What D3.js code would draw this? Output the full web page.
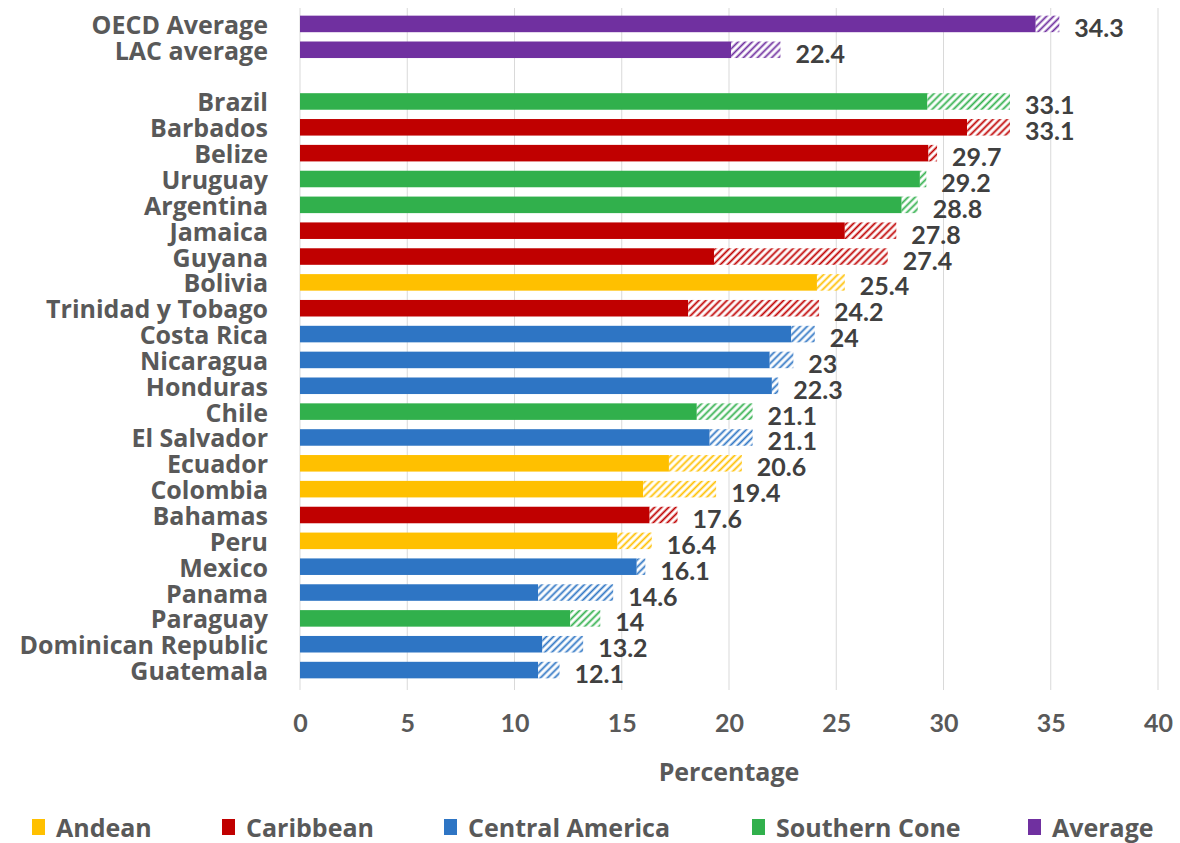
<!DOCTYPE html>
<html>
<head>
<meta charset="utf-8">
<script src="https://cdn.jsdelivr.net/npm/d3@7"></script>
<style>
    body { margin: 0; background: #fff; }
    text { font-family: Lato, "Open Sans", sans-serif; }
</style>
</head>
<body>
<svg id="chart" width="1180" height="843"></svg>
<script>
const categories = ['OECD Average', 'LAC average', 'Brazil', 'Barbados', 'Belize', 'Uruguay', 'Argentina', 'Jamaica', 'Guyana',
    'Bolivia', 'Trinidad y Tobago', 'Costa Rica', 'Nicaragua', 'Honduras', 'Chile', 'El Salvador', 'Ecuador', 'Colombia',
    'Bahamas', 'Peru', 'Mexico', 'Panama', 'Paraguay', 'Dominican Republic', 'Guatemala']
const regionOf = ['Average', 'Average', 'Southern Cone', 'Caribbean', 'Caribbean', 'Southern Cone', 'Southern Cone', 'Caribbean', 'Caribbean',
    'Andean', 'Caribbean', 'Central America', 'Central America', 'Central America', 'Southern Cone', 'Central America', 'Andean', 'Andean',
    'Caribbean', 'Andean', 'Central America', 'Central America', 'Southern Cone', 'Central America', 'Central America']
// solid part of each bar
const solid = [34.3, 20.1, 29.25, 31.1, 29.3, 28.9, 28.05, 25.4, 19.3, 24.1, 18.1, 22.9, 21.9, 22.0, 18.5, 19.1, 17.2, 16.0,
    16.3, 14.8, 15.7, 11.1, 12.6, 11.3, 11.1]
// hatched part added on top
const hatched = [1.1, 2.3, 3.85, 2.0, 0.4, 0.3, 0.75, 2.4, 8.1, 1.3, 6.1, 1.1, 1.1, 0.3, 2.6, 2.0, 3.4, 3.4,
    1.3, 1.6, 0.4, 3.5, 1.4, 1.9, 1.0]
const valueLabels = ['34.3', '22.4', '33.1', '33.1', '29.7', '29.2', '28.8', '27.8', '27.4', '25.4', '24.2', '24', '23', '22.3',
    '21.1', '21.1', '20.6', '19.4', '17.6', '16.4', '16.1', '14.6', '14', '13.2', '12.1']
const regions = ['Andean', 'Caribbean', 'Central America', 'Southern Cone', 'Average']
const regionColors = ['#FFC000', '#C00000', '#2E75C4', '#31B04C', '#7030A0']
const xTicks = [0, 5, 10, 15, 20, 25, 30, 35, 40]

const rows = categories.map((c, i) => ({ name: c, region: regionOf[i], solid: solid[i], hatched: hatched[i], label: valueLabels[i] }))

const svg = d3.select('#chart')
const color = d3.scaleOrdinal().domain(regions).range(regionColors)

// blank row between the two averages and the countries
const domain = [categories[0], categories[1], '__gap__', ...categories.slice(2)]
const x = d3.scaleLinear().domain([0, 40]).range([300, 1158])
const y = d3.scaleBand().domain(domain).range([11, 683]).paddingInner(0.36).paddingOuter(0.18)

// hatch patterns
const defs = svg.append('defs')
regions.forEach((r, i) => {
    const p = defs.append('pattern')
        .attr('id', 'hatch' + i)
        .attr('patternUnits', 'userSpaceOnUse')
        .attr('width', 5)
        .attr('height', 5)
        .attr('patternTransform', 'rotate(45)')
    p.append('rect').attr('width', 5).attr('height', 5).attr('fill', '#fff')
    p.append('line')
        .attr('x1', 1.5).attr('y1', 0).attr('x2', 1.5).attr('y2', 5)
        .attr('stroke', regionColors[i])
        .attr('stroke-width', 1.8)
})

// grid
svg.append('g')
    .selectAll('line')
    .data(xTicks)
    .enter()
    .append('line')
    .attr('x1', d => x(d)).attr('x2', d => x(d))
    .attr('y1', 8).attr('y2', 690)
    .attr('stroke', '#d9d9d9')
    .attr('stroke-width', 1)

const bars = svg.append('g')
    .selectAll('g')
    .data(rows)
    .enter()
    .append('g')

bars.append('rect')
    .attr('x', x(0))
    .attr('y', d => y(d.name))
    .attr('width', d => x(d.solid) - x(0))
    .attr('height', y.bandwidth())
    .attr('fill', d => color(d.region))

bars.append('rect')
    .attr('x', d => x(d.solid))
    .attr('y', d => y(d.name))
    .attr('width', d => x(d.solid + d.hatched) - x(d.solid))
    .attr('height', y.bandwidth())
    .attr('fill', d => 'url(#hatch' + regions.indexOf(d.region) + ')')

bars.append('text')
    .attr('x', d => x(d.solid + d.hatched) + 15)
    .attr('y', d => y(d.name) + y.bandwidth() / 2 + 3)
    .attr('dominant-baseline', 'central')
    .attr('font-size', 25)
    .attr('font-weight', 'bold')
    .attr('fill', '#404040')
    .text(d => d.label)

// category labels
svg.append('g')
    .selectAll('text')
    .data(rows)
    .enter()
    .append('text')
    .attr('x', 268)
    .attr('y', d => y(d.name) + y.bandwidth() / 2)
    .attr('text-anchor', 'end')
    .attr('dominant-baseline', 'central')
    .attr('font-size', 25)
    .attr('font-weight', 'bold')
    .attr('fill', '#595959')
    .style('font-family', '"Open Sans", sans-serif')
    .text(d => d.name)

// x axis
const xAxis = svg.append('g')
    .attr('transform', 'translate(0,702)')
    .call(d3.axisBottom(x).tickValues(xTicks).tickSize(0).tickPadding(12))
xAxis.select('.domain').remove()
xAxis.selectAll('text')
    .attr('font-size', 25)
    .attr('font-weight', 'bold')
    .attr('fill', '#595959')
    .style('font-family', 'Lato, sans-serif')

svg.append('text')
    .attr('x', (x(0) + x(40)) / 2)
    .attr('y', 771)
    .attr('text-anchor', 'middle')
    .attr('dominant-baseline', 'central')
    .attr('font-size', 25)
    .attr('font-weight', 'bold')
    .attr('fill', '#595959')
    .style('font-family', '"Open Sans", sans-serif')
    .text('Percentage')

// legend
const legendX = [32, 222, 444, 752, 1028]
const legend = svg.append('g')
    .selectAll('g')
    .data(regions)
    .enter()
    .append('g')
    .attr('transform', (d, i) => 'translate(' + legendX[i] + ',827)')
legend.append('rect')
    .attr('x', 0).attr('y', -8)
    .attr('width', 13).attr('height', 16)
    .attr('fill', d => color(d))
legend.append('text')
    .attr('x', 24)
    .attr('y', 0)
    .attr('dominant-baseline', 'central')
    .attr('font-size', 25)
    .attr('font-weight', 'bold')
    .attr('fill', '#595959')
    .style('font-family', '"Open Sans", sans-serif')
    .text(d => d)
</script>
</body>
</html>
